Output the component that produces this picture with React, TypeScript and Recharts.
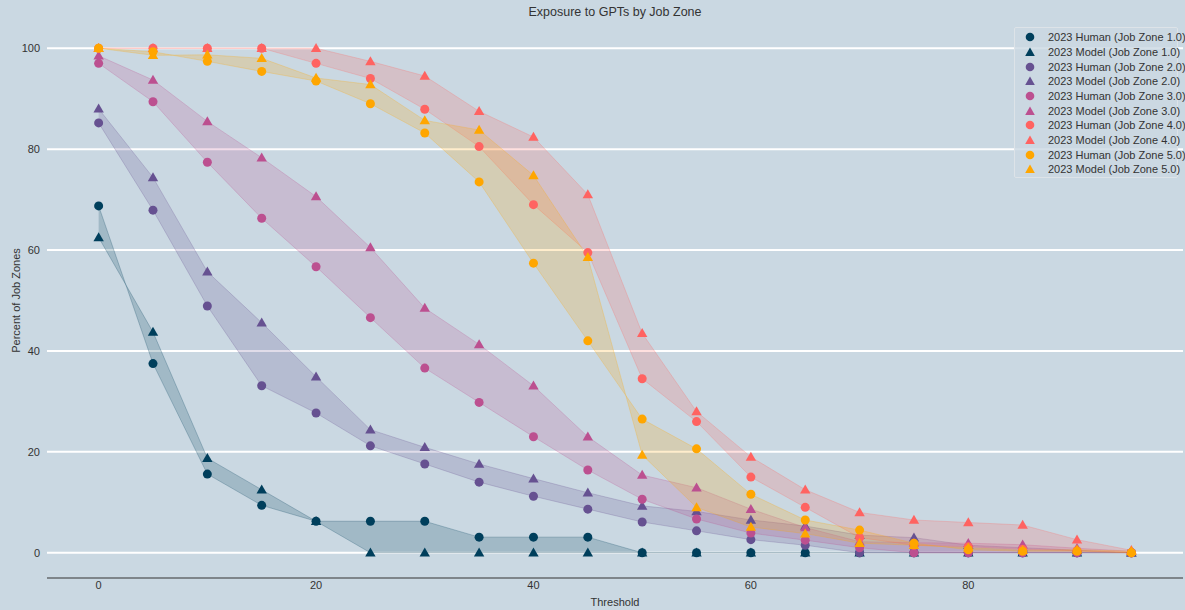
import {
  Area,
  CartesianGrid,
  ComposedChart,
  Scatter,
  XAxis,
  YAxis,
} from "recharts";

const BG = "#cad8e2";
const TEXT = "#333333";

const THRESHOLDS = [0, 5, 10, 15, 20, 25, 30, 35, 40, 45, 50, 55, 60, 65, 70, 75, 80, 85, 90, 95];
const ZONES = ["1.0", "2.0", "3.0", "4.0", "5.0"];
const ZONE_COLORS = ["#003f5c", "#665191", "#bc5090", "#ff6361", "#ffa600"];

const HUMAN_1 = [68.75, 37.5, 15.6, 9.4, 6.25, 6.25, 6.25, 3.1, 3.1, 3.1, 0, 0, 0, 0, 0, 0, 0, 0, 0, 0];
const MODEL_1 = [62.5, 43.75, 18.75, 12.5, 6.25, 0, 0, 0, 0, 0, 0, 0, 0, 0, 0, 0, 0, 0, 0, 0];
const HUMAN_2 = [85.2, 67.9, 48.9, 33.1, 27.7, 21.2, 17.6, 14.0, 11.2, 8.65, 6.1, 4.35, 2.6, 1.5, 0, 0, 0, 0, 0, 0];
const MODEL_2 = [88.0, 74.4, 55.7, 45.6, 34.9, 24.4, 20.9, 17.6, 14.7, 11.9, 9.3, 8.2, 6.5, 5.3, 3.5, 3.0, 1.5, 1.0, 0.5, 0];
const HUMAN_3 = [97.0, 89.4, 77.4, 66.3, 56.7, 46.6, 36.6, 29.8, 23.0, 16.4, 10.6, 6.7, 3.9, 2.5, 1.0, 0, 0, 0, 0, 0];
const MODEL_3 = [98.5, 93.7, 85.5, 78.3, 70.6, 60.5, 48.5, 41.3, 33.1, 23.0, 15.4, 12.9, 8.65, 5.0, 2.2, 2.0, 1.9, 1.6, 0.9, 0.3];
const HUMAN_4 = [100, 100, 100, 100, 97.0, 94.0, 87.9, 80.5, 69.0, 59.5, 34.5, 26.0, 15.0, 9.0, 3.0, 1.5, 1.2, 0.7, 0.4, 0];
const MODEL_4 = [100, 100, 100, 100, 100, 97.4, 94.5, 87.5, 82.4, 71.0, 43.5, 28.0, 19.0, 12.5, 8.0, 6.5, 6.0, 5.5, 2.6, 0.5];
const HUMAN_5 = [100, 99.3, 97.4, 95.4, 93.5, 89.0, 83.2, 73.5, 57.4, 42.0, 26.5, 20.6, 11.6, 6.5, 4.5, 1.9, 0.6, 0.3, 0.3, 0];
const MODEL_5 = [100, 98.6, 98.7, 98.0, 94.1, 92.8, 85.7, 83.8, 74.8, 58.6, 19.4, 9.0, 5.1, 3.8, 1.9, 1.5, 1.0, 0.5, 0.6, 0.3];

const HUMAN = [HUMAN_1, HUMAN_2, HUMAN_3, HUMAN_4, HUMAN_5];
const MODEL = [MODEL_1, MODEL_2, MODEL_3, MODEL_4, MODEL_5];

const X_TICKS = [0, 20, 40, 60, 80];
const Y_TICKS = [0, 20, 40, 60, 80, 100];

const rows = THRESHOLDS.map((t, i) => {
  const row: Record<string, number> = { t };
  ZONES.forEach((_, z) => {
    row[`h${z}`] = HUMAN[z][i];
    row[`m${z}`] = MODEL[z][i];
  });
  return row;
});

const pointsFor = (values: number[]) => THRESHOLDS.map((t, i) => ({ t, v: values[i] }));

const FONT = "Arial, 'Liberation Sans', sans-serif";

// matplotlib-ish markers, a bit smaller than recharts' default symbols
const circleShape = (color: string) => (p: any) =>
  <circle cx={p.cx} cy={p.cy} r={4.5} fill={color} />;
const triangleShape = (color: string) => (p: any) =>
  (
    <polygon
      points={`${p.cx},${p.cy - 5.2} ${p.cx + 5.2},${p.cy + 3.8} ${p.cx - 5.2},${p.cy + 3.8}`}
      fill={color}
    />
  );

function Legend() {
  const items: { label: string; color: string; shape: "circle" | "triangle" }[] = [];
  ZONES.forEach((z, i) => {
    items.push({ label: `2023 Human (Job Zone ${z})`, color: ZONE_COLORS[i], shape: "circle" });
    items.push({ label: `2023 Model (Job Zone ${z})`, color: ZONE_COLORS[i], shape: "triangle" });
  });
  return (
    <div
      style={{
        position: "absolute",
        left: 1014,
        top: 27,
        width: 164,
        height: 151,
        border: "1px solid #dde3e8",
        borderRadius: 2,
        background: "rgba(202,216,226,0.8)",
        boxSizing: "border-box",
        paddingTop: 2,
      }}
    >
      {items.map((it) => (
        <div key={it.label} style={{ display: "flex", alignItems: "center", height: 14.67 }}>
          <svg width={30} height={12} style={{ flexShrink: 0 }}>
            {it.shape === "circle" ? (
              <circle cx={15} cy={6} r={4.3} fill={it.color} />
            ) : (
              <polygon points="15,1.5 19.8,10 10.2,10" fill={it.color} />
            )}
          </svg>
          <span style={{ fontSize: 11, color: TEXT, marginLeft: 3, whiteSpace: "nowrap" }}>{it.label}</span>
        </div>
      ))}
    </div>
  );
}

export default function App() {
  return (
    <div
      style={{
        position: "absolute",
        left: 0,
        top: 0,
        width: 1185,
        height: 610,
        background: BG,
        fontFamily: FONT,
      }}
    >
      <div
        style={{
          position: "absolute",
          left: 47,
          width: 1136,
          top: 5,
          textAlign: "center",
          fontSize: 12.5,
          color: TEXT,
        }}
      >
        Exposure to GPTs by Job Zone
      </div>
      <ComposedChart
        width={1185}
        height={610}
        data={rows}
        margin={{ top: 23, right: 2, bottom: 0, left: 0 }}
        style={{ fontFamily: FONT }}
      >
        <CartesianGrid vertical={false} horizontalValues={Y_TICKS} stroke="#ffffff" strokeWidth={2} />
        <XAxis
          dataKey="t"
          type="number"
          domain={[-4.75, 99.75]}
          ticks={X_TICKS}
          tickLine={false}
          tickSize={0}
          tickMargin={3}
          height={32}
          axisLine={{ stroke: TEXT }}
          tick={{ fill: TEXT, fontSize: 11 }}
          allowDataOverflow
          label={{ value: "Threshold", position: "insideBottom", offset: 4, fill: TEXT, fontSize: 11 }}
        />
        <YAxis
          type="number"
          domain={[-5, 105]}
          ticks={Y_TICKS}
          width={47}
          tickLine={false}
          tickSize={0}
          tickMargin={7}
          axisLine={false}
          tick={{ fill: TEXT, fontSize: 11 }}
          allowDataOverflow
          label={{
            value: "Percent of Job Zones",
            angle: -90,
            position: "insideLeft",
            offset: 16,
            fill: TEXT,
            fontSize: 11,
            style: { textAnchor: "middle" },
          }}
        />
        {ZONES.flatMap((z, i) => [
          <Area
            key={`a${i}`}
            type="linear"
            dataKey={(d: Record<string, number>) => [d[`h${i}`], d[`m${i}`]]}
            stroke={ZONE_COLORS[i]}
            strokeOpacity={0.25}
            strokeWidth={1}
            fill={ZONE_COLORS[i]}
            fillOpacity={0.2}
            dot={false}
            activeDot={false}
            legendType="none"
            isAnimationActive={false}
          />,
          <Scatter
            key={`h${i}`}
            name={`2023 Human (Job Zone ${z})`}
            data={pointsFor(HUMAN[i])}
            dataKey="v"
            fill={ZONE_COLORS[i]}
            shape={circleShape(ZONE_COLORS[i])}
            isAnimationActive={false}
          />,
          <Scatter
            key={`m${i}`}
            name={`2023 Model (Job Zone ${z})`}
            data={pointsFor(MODEL[i])}
            dataKey="v"
            fill={ZONE_COLORS[i]}
            shape={triangleShape(ZONE_COLORS[i])}
            isAnimationActive={false}
          />,
        ])}
      </ComposedChart>
      <Legend />
    </div>
  );
}
